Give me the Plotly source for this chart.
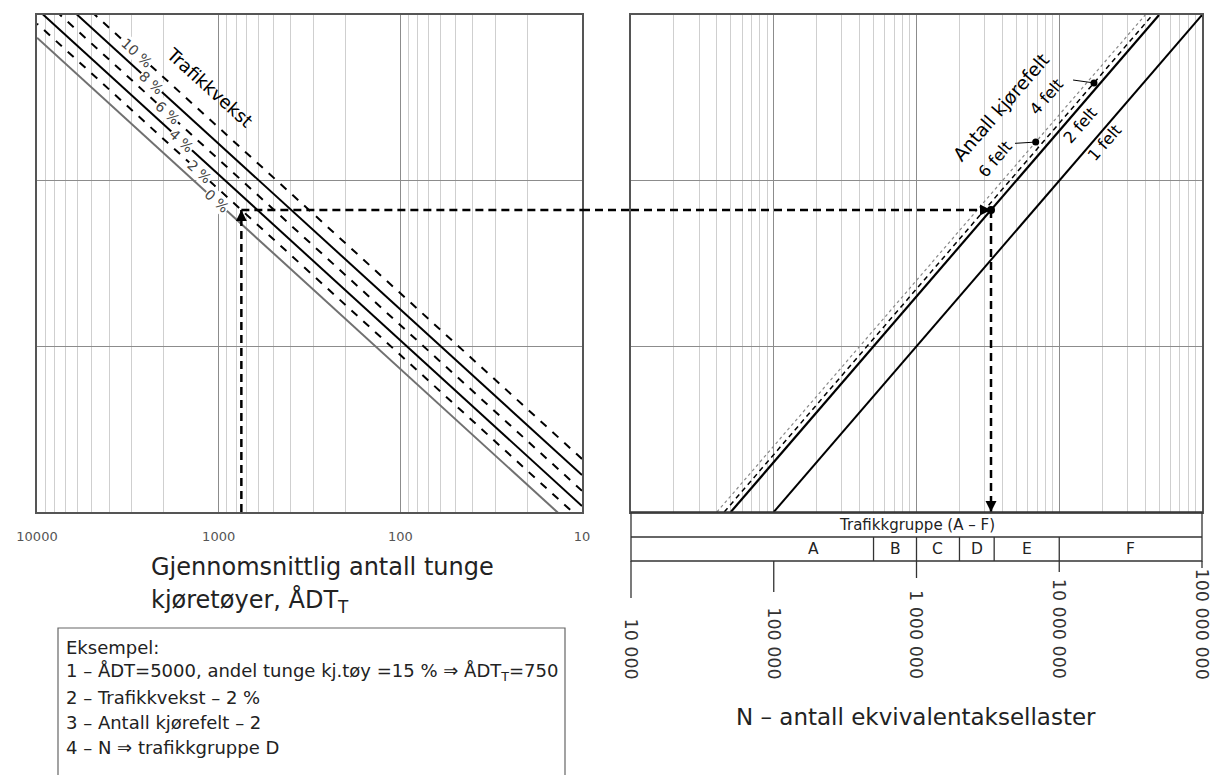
import numpy as np
import plotly.graph_objects as go

W, H = 1216, 775

# ---------------- data ----------------
adt_ticks = [10000, 1000, 100, 10]
adt_tick_text = ["10000", "1000", "100", "10"]
adt_line_ends = [10, 10000]

growth_labels = ["0 %", "2 %", "4 %", "6 %", "8 %", "10 %"]
nref_per_adt = [7300, 8870, 10870, 13430, 16700, 20910]      # N (1 lane) per unit ÅDT_T
growth_label_adt = [1026, 1272, 1597, 1906, 2335, 2821]

lane_labels = ["1 felt", "2 felt", "4 felt", "6 felt"]
lane_factors = [1.0, 0.5, 0.45, 0.40]
nref_line_ends = [1e5, 1e8]
lane_label_n = [2.09e7, 1.40e7, 8.2e6, 3.55e6]
lane_label_nref = [1.69e7, 2.14e7, 3.2e7, 1.333e7]
lane_marker_nref = [None, None, 3.89e7, 1.71e7]
lane_leader_n = [None, None, 1.25e7, 4.9e6]
lane_leader_nref = [None, None, 4.05e7, 1.68e7]

n_ticks = [1e4, 1e5, 1e6, 1e7, 1e8]
n_tick_text = ["10 000", "100 000", "1 000 000", "10 000 000", "100 000 000"]

group_names = ["A", "B", "C", "D", "E", "F"]
group_bounds = [5e5, 1e6, 2e6, 3.5e6, 1e7]
group_label_n = [1.9e5, 7.07e5, 1.41e6, 2.65e6, 5.9e6, 3.16e7]

example_adt = 750
example_growth = 1   # index -> 2 %
example_lanes = 1    # index -> 2 felt
example_text = [
    "Eksempel:",
    "1 – ÅDT=5000, andel tunge kj.tøy =15 % ⇒ ÅDT<sub>T</sub>=750",
    "2 – Trafikkvekst – 2 %",
    "3 – Antall kjørefelt – 2",
    "4 – N ⇒ trafikkgruppe D",
]

# ---------------- styles ----------------
FONT = "DejaVu Sans"
TXT = "#222"
growth_styles = [
    dict(color="#707070", width=2),
    dict(color="black", width=2, dash="8px,8px"),
    dict(color="black", width=2),
    dict(color="black", width=2, dash="8px,8px"),
    dict(color="black", width=2),
    dict(color="black", width=2, dash="8px,8px"),
]
lane_styles = [
    dict(color="black", width=2),
    dict(color="black", width=2.2),
    dict(color="black", width=1.5, dash="5px,4px"),
    dict(color="#888", width=1.2, dash="dot"),
]
EX = dict(color="black", width=2.5, dash="8px,5px")

def fx(px):
    return px / W

def fy(py):
    return 1 - py / H

dom1 = [fx(37), fx(582)]
dom2 = [fx(631), fx(1202)]
ydom = [fy(512), fy(15)]
lg = np.log10

fig = go.Figure()

# growth lines (left panel)
for i in range(len(growth_labels)):
    fig.add_trace(go.Scatter(
        x=adt_line_ends, y=[a * nref_per_adt[i] for a in adt_line_ends],
        mode="lines", line=growth_styles[i], xaxis="x", yaxis="y",
        hoverinfo="skip", showlegend=False))

# lane lines (right panel), draw 6 felt first
for i in reversed(range(len(lane_labels))):
    fig.add_trace(go.Scatter(
        x=[lane_factors[i] * n for n in nref_line_ends], y=nref_line_ends,
        mode="lines", line=lane_styles[i], xaxis="x2", yaxis="y2",
        hoverinfo="skip", showlegend=False))

# leader lines and dots
for i in range(len(lane_labels)):
    if lane_marker_nref[i] is None:
        continue
    mx = lane_factors[i] * lane_marker_nref[i]
    fig.add_trace(go.Scatter(
        x=[lane_leader_n[i], mx], y=[lane_leader_nref[i], lane_marker_nref[i]],
        mode="lines", line=dict(color="black", width=1), xaxis="x2", yaxis="y2",
        hoverinfo="skip", showlegend=False))
    fig.add_trace(go.Scatter(
        x=[mx], y=[lane_marker_nref[i]], mode="markers",
        marker=dict(color="black", size=7), xaxis="x2", yaxis="y2",
        hoverinfo="skip", showlegend=False))

# example path
ex_nref = example_adt * nref_per_adt[example_growth]
ex_n = lane_factors[example_lanes] * ex_nref
fig.add_trace(go.Scatter(x=[example_adt, example_adt], y=[1e5, ex_nref], mode="lines",
                         line=EX, xaxis="x", yaxis="y", hoverinfo="skip", showlegend=False))
fig.add_trace(go.Scatter(x=[example_adt, adt_line_ends[0]], y=[ex_nref, ex_nref], mode="lines",
                         line=EX, xaxis="x", yaxis="y", hoverinfo="skip", showlegend=False))
fig.add_trace(go.Scatter(x=[n_ticks[0], ex_n], y=[ex_nref, ex_nref], mode="lines",
                         line=EX, xaxis="x2", yaxis="y2", hoverinfo="skip", showlegend=False))
fig.add_trace(go.Scatter(x=[ex_n, ex_n], y=[ex_nref, 1e5], mode="lines",
                         line=EX, xaxis="x2", yaxis="y2", hoverinfo="skip", showlegend=False))
fig.add_trace(go.Scatter(x=[ex_n], y=[ex_nref], mode="markers",
                         marker=dict(color="black", size=8), xaxis="x2", yaxis="y2",
                         hoverinfo="skip", showlegend=False))
# arrow heads
fig.add_trace(go.Scatter(x=[example_adt], y=[ex_nref], mode="markers", cliponaxis=False,
                         marker=dict(symbol="arrow-up", color="black", size=11),
                         xaxis="x", yaxis="y", hoverinfo="skip", showlegend=False))
fig.add_trace(go.Scatter(x=[ex_n], y=[ex_nref], mode="markers", cliponaxis=False,
                         marker=dict(symbol="arrow-right", color="black", size=11),
                         xaxis="x2", yaxis="y2", hoverinfo="skip", showlegend=False))
fig.add_trace(go.Scatter(x=[ex_n], y=[1e5], mode="markers", cliponaxis=False,
                         marker=dict(symbol="arrow-down", color="black", size=11),
                         xaxis="x2", yaxis="y2", hoverinfo="skip", showlegend=False))

shapes = []
# gap segment of the horizontal example line (between the two panels)
shapes.append(dict(type="line", xref="paper", yref="y", x0=dom1[1], x1=dom2[0],
                   y0=ex_nref, y1=ex_nref, line=EX, layer="above"))

annotations = []
C = dict(xanchor="center", yanchor="middle")

# growth labels
for i, lab in enumerate(growth_labels):
    a = growth_label_adt[i]
    annotations.append(dict(x=lg(a), y=lg(a * nref_per_adt[i]), xref="x", yref="y",
                            text=lab, showarrow=False, textangle=42,
                            font=dict(family=FONT, size=14, color="#444"),
                            bgcolor="white", borderpad=0, **C))
annotations.append(dict(x=lg(1121), y=lg(3.63e7), xref="x", yref="y", text="Trafikkvekst",
                        showarrow=False, textangle=42,
                        font=dict(family=FONT, size=18, color="black"), **C))

# lane labels
for i, lab in enumerate(lane_labels):
    annotations.append(dict(x=lg(lane_label_n[i]), y=lg(lane_label_nref[i]), xref="x2", yref="y2",
                            text=lab, showarrow=False, textangle=-49,
                            font=dict(family=FONT, size=16, color="black"), **C))
annotations.append(dict(x=lg(3.91e6), y=lg(2.75e7), xref="x2", yref="y2",
                        text="Antall kjørefelt", showarrow=False, textangle=-49,
                        font=dict(family=FONT, size=18.5, color="black"), **C))

# table under right panel
tab_top, tab_mid, tab_bot = fy(512), fy(537), fy(561)
shapes.append(dict(type="rect", xref="paper", yref="paper", x0=dom2[0], x1=dom2[1],
                   y0=tab_bot, y1=tab_top, line=dict(color="#333", width=1.3)))
shapes.append(dict(type="line", xref="paper", yref="paper", x0=dom2[0], x1=dom2[1],
                   y0=tab_mid, y1=tab_mid, line=dict(color="#333", width=1.3)))
for b in group_bounds:
    shapes.append(dict(type="line", xref="x2", yref="paper", x0=b, x1=b,
                       y0=tab_bot, y1=tab_mid, line=dict(color="#333", width=1.3)))
tick_ends = [598, 592, 578, 572, 568]
for k, t in enumerate(n_ticks):
    if k == 0:
        shapes.append(dict(type="line", xref="paper", yref="paper", x0=dom2[0], x1=dom2[0],
                           y0=fy(tick_ends[k]), y1=tab_bot, line=dict(color="#333", width=1.3)))
    elif k == len(n_ticks) - 1:
        shapes.append(dict(type="line", xref="paper", yref="paper", x0=dom2[1], x1=dom2[1],
                           y0=fy(tick_ends[k]), y1=tab_bot, line=dict(color="#333", width=1.3)))
    else:
        shapes.append(dict(type="line", xref="x2", yref="paper", x0=t, x1=t,
                           y0=fy(tick_ends[k]), y1=tab_bot, line=dict(color="#333", width=1.3)))
    annotations.append(dict(x=lg(t), y=fy(681), xref="x2", yref="paper", text=n_tick_text[k],
                            showarrow=False, textangle=90, xanchor="center", yanchor="bottom",
                            font=dict(family=FONT, size=17.5, color="#333")))
annotations.append(dict(x=(dom2[0] + dom2[1]) / 2, y=fy(524.5), xref="paper", yref="paper",
                        text="Trafikkgruppe (A – F)", showarrow=False,
                        font=dict(family=FONT, size=15, color=TXT), **C))
for g, n in zip(group_names, group_label_n):
    annotations.append(dict(x=lg(n), y=fy(549), xref="x2", yref="paper", text=g,
                            showarrow=False, font=dict(family=FONT, size=15.5, color=TXT), **C))

# axis titles
annotations.append(dict(x=fx(149), y=fy(567), xref="paper", yref="paper",
                        text="Gjennomsnittlig antall tunge", showarrow=False, xanchor="left",
                        yanchor="middle", font=dict(family=FONT, size=24, color=TXT)))
annotations.append(dict(x=fx(149), y=fy(601), xref="paper", yref="paper",
                        text="kjøretøyer, ÅDT<sub>T</sub>", showarrow=False, xanchor="left",
                        yanchor="middle", font=dict(family=FONT, size=24, color=TXT)))
annotations.append(dict(x=fx(916), y=fy(717), xref="paper", yref="paper",
                        text="N – antall ekvivalentaksellaster", showarrow=False,
                        font=dict(family=FONT, size=23, color=TXT), **C))

# example box
shapes.append(dict(type="rect", xref="paper", yref="paper", x0=fx(58), x1=fx(565),
                   y0=-0.02, y1=fy(628), line=dict(color="#666", width=1.2)))
for j, t in enumerate(example_text):
    annotations.append(dict(x=fx(64), y=fy(647 + 25 * j), xref="paper", yref="paper",
                            text=t, showarrow=False, xanchor="left", yanchor="middle",
                            font=dict(family=FONT, size=18, color=TXT)))

grid_major = "#8c8c8c"
grid_minor = "#cfcfcf"
minor_adt = [k * 10 ** d for d in range(1, 4) for k in range(2, 10)]
minor_n = [k * 10 ** d for d in range(4, 8) for k in range(2, 10)]
axis_common = dict(type="log", showline=True, mirror=True, linecolor="#555", linewidth=1.5,
                   showgrid=True, gridcolor=grid_major, gridwidth=1, zeroline=False, ticks="",
                   automargin=False)

fig.update_layout(
    width=W, height=H, margin=dict(l=0, r=0, t=0, b=0, pad=0, autoexpand=False),
    paper_bgcolor="white", plot_bgcolor="white", showlegend=False,
    font=dict(family=FONT, color=TXT),
    xaxis=dict(axis_common, domain=dom1, range=[4, 1], anchor="y",
               tickmode="array", tickvals=adt_ticks, ticktext=adt_tick_text,
               tickfont=dict(family=FONT, size=13, color="#555"), ticklabelstandoff=12,
               minor=dict(tickmode="array", tickvals=minor_adt, showgrid=True,
                          gridcolor=grid_minor, gridwidth=1, ticks="")),
    yaxis=dict(axis_common, domain=ydom, range=[5, 8], anchor="x",
               tickmode="array", tickvals=[1e5, 1e6, 1e7, 1e8], showticklabels=False),
    xaxis2=dict(axis_common, domain=dom2, range=[4, 8], anchor="y2",
                tickmode="array", tickvals=n_ticks, showticklabels=False,
                minor=dict(tickmode="array", tickvals=minor_n, showgrid=True,
                           gridcolor=grid_minor, gridwidth=1, ticks="")),
    yaxis2=dict(axis_common, domain=ydom, range=[5, 8], anchor="x2", matches="y",
                tickmode="array", tickvals=[1e5, 1e6, 1e7, 1e8], showticklabels=False),
    shapes=shapes, annotations=annotations,
)

fig.write_html("out.html", config={"displayModeBar": False},
               post_script="document.body.style.margin='0px';document.body.style.overflow='hidden';")
